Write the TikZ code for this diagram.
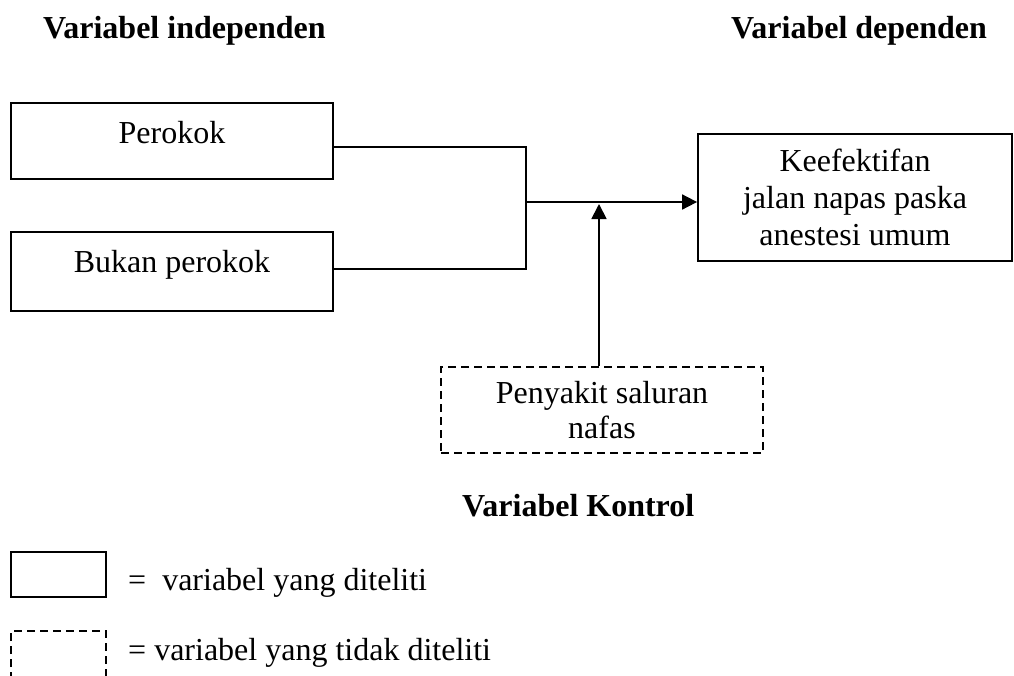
\documentclass[tikz,border=0pt]{standalone}
\usepackage{fontspec}
\setmainfont{Liberation Serif}
\usetikzlibrary{arrows.meta}
\tikzset{
  txt/.style={font=\fontsize{32}{37}\selectfont, inner sep=0pt},
  ttl/.style={font=\fontsize{32}{37}\selectfont\bfseries, inner sep=0pt, anchor=base west},
  box/.style={draw, line width=1.8pt, inner sep=0pt, font=\fontsize{32}{37}\selectfont, align=center},
  dbox/.style={box, dash pattern=on 8pt off 5pt},
  conn/.style={line width=1.8pt},
  arr/.style={conn, -{Triangle[length=15pt,width=15pt]}}
}
\begin{document}
\begin{tikzpicture}[x=1pt,y=-1pt]
\useasboundingbox (0,0) rectangle (1014,675);
% titles
\node[ttl] (tind) at (43,38) {Variabel independen};
\node[ttl] (tdep) at (731,38) {Variabel dependen};
\node[ttl] (tkon) at (462,516) {Variabel Kontrol};
% boxes
\node[box, minimum width=322pt, minimum height=76pt, text height=22pt, text depth=18pt] (per) at (172,141) {Perokok};
\node[box, minimum width=322pt, minimum height=79pt, text height=22pt, text depth=21pt] (bukan) at (172,271.5) {Bukan perokok};
\node[box, minimum width=314pt, minimum height=127pt] (keef) at (855,197.5) {Keefektifan\\jalan napas paska\\anestesi umum};
\node[dbox, minimum width=322pt, minimum height=86pt, font=\fontsize{32}{35}\selectfont] (ctrl) at (602,410) {Penyakit saluran\\nafas};
% connectors
\coordinate (jt) at (526,147);
\coordinate (jb) at (526,269);
\coordinate (jm) at (526,202);
\coordinate (jv) at (599,204);
\draw[conn] (per.east |- jt) -- (jt) -- (jb) -- (bukan.east |- jb);
\draw[arr] (jm) -- (keef.west |- jm);
\draw[arr] (ctrl.north -| jv) -- (jv);
% legend
\node[box, minimum width=95pt, minimum height=45pt] (lega) at (58.5,574.5) {};
\draw[conn, dash pattern=on 8pt off 5pt] (11,680) -- (11,631) -- (106,631) -- (106,680);
\node[txt, anchor=base west] (legat) at (128,590) {=\ \ variabel yang diteliti};
\node[txt, anchor=base west] (legbt) at (128,660) {= variabel yang tidak diteliti};
\end{tikzpicture}
\end{document}
